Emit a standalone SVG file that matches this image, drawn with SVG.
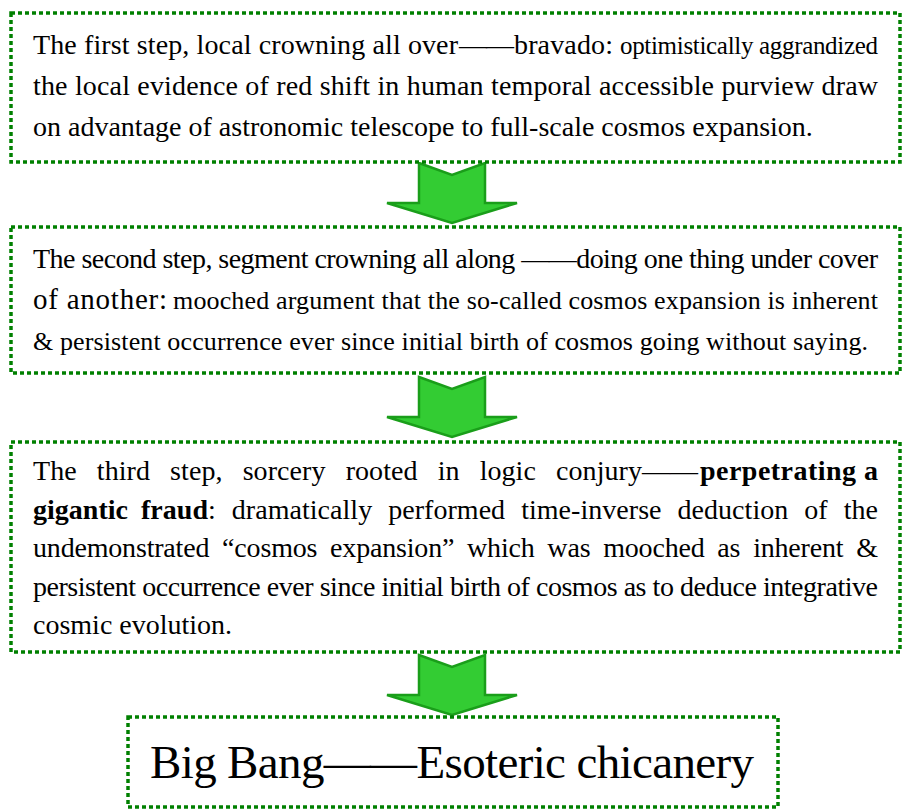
<svg xmlns="http://www.w3.org/2000/svg" width="905" height="810" viewBox="0 0 905 810">
<style>
.box{fill:#fff;stroke:#008000;stroke-width:3.5;stroke-dasharray:4 3}
text{font-family:"Liberation Serif","Times New Roman",Times,serif;font-size:28px;fill:#000}
.s26{font-size:26px}
.big{font-size:47px}
.b{font-weight:bold}
.arrow{fill:#33cc33;stroke:#1a9e1a;stroke-width:2.5;stroke-linejoin:miter}
</style>
<rect width="905" height="810" fill="#fff"/>
<g id="connectors">
<polygon class="arrow" points="419,163 452,175 485,163 485,203 517,203 452,223 387,203 419,203"/>
<polygon class="arrow" points="419,377 452,389 485,377 485,417 517,417 452,437 387,417 419,417"/>
<polygon class="arrow" points="419,655 452,667 485,655 485,695 517,695 452,715 387,695 419,695"/>
</g>
<g id="step1">
<rect class="box" x="11" y="13" width="889" height="149"/>
<text y="54"><tspan x="33" textLength="425" lengthAdjust="spacing">The first step, local crowning all over</tspan><tspan x="459" textLength="55" lengthAdjust="spacing">——</tspan><tspan x="514" textLength="99" lengthAdjust="spacing">bravado:</tspan><tspan x="620" style="font-size:25px" textLength="258" lengthAdjust="spacing">optimistically aggrandized</tspan></text>
<text x="33" y="95" textLength="845" lengthAdjust="spacing">the local evidence of red shift in human temporal accessible purview draw</text>
<text x="33" y="136">on advantage of astronomic telescope to full-scale cosmos expansion.</text>
</g>
<g id="step2">
<rect class="box" x="11" y="227" width="889" height="146"/>
<text x="33" y="268" textLength="845" lengthAdjust="spacing">The second step, segment crowning all along ——doing one thing under cover</text>
<text y="309"><tspan x="33" style="font-size:29px" textLength="134" lengthAdjust="spacing">of another:</tspan><tspan x="173" style="font-size:26px" textLength="705" lengthAdjust="spacing">mooched argument that the so-called cosmos expansion is inherent</tspan></text>
<text class="s26" x="33" y="350" textLength="835" lengthAdjust="spacing">&amp; persistent occurrence ever since initial birth of cosmos going without saying.</text>
</g>
<g id="step3">
<rect class="box" x="11" y="442" width="889" height="210"/>
<text y="480"><tspan x="33" word-spacing="13" textLength="609" lengthAdjust="spacing">The third step, sorcery rooted in logic conjury</tspan><tspan x="642" textLength="56" lengthAdjust="spacing">——</tspan><tspan x="700" class="b" textLength="178" lengthAdjust="spacing">perpetrating a</tspan></text>
<text y="518.5"><tspan x="33" class="b" word-spacing="6" textLength="175" lengthAdjust="spacing">gigantic fraud</tspan><tspan x="208" word-spacing="9" textLength="670" lengthAdjust="spacing">: dramatically performed time-inverse deduction of the</tspan></text>
<text x="33" y="557" word-spacing="6" textLength="845" lengthAdjust="spacing">undemonstrated “cosmos expansion” which was mooched as inherent &amp;</text>
<text x="33" y="595.5" textLength="845" lengthAdjust="spacing">persistent occurrence ever since initial birth of cosmos as to deduce integrative</text>
<text x="33" y="634">cosmic evolution.</text>
</g>
<g id="result">
<rect class="box" x="128" y="717" width="650" height="90"/>
<text class="big" x="150" y="778" textLength="604" lengthAdjust="spacing">Big Bang——Esoteric chicanery</text>
</g>
</svg>
